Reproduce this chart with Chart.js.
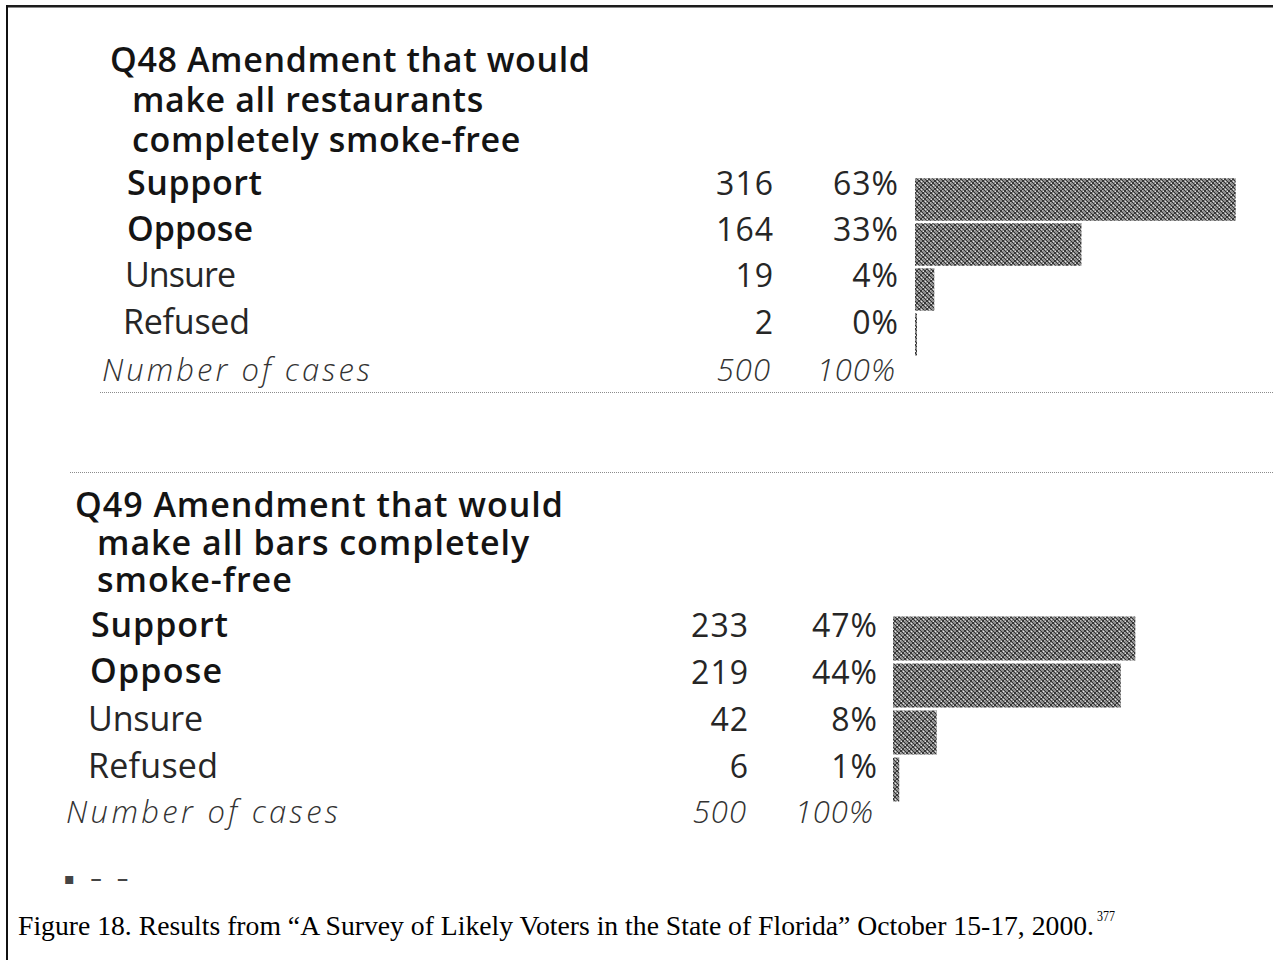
<!DOCTYPE html>
<html>
<head>
<meta charset="utf-8">
<script src="https://cdn.jsdelivr.net/npm/chart.js@4.4.1/dist/chart.umd.min.js"></script>
<style>
html,body{margin:0;padding:0;background:#fff;}
#page{position:relative;width:1273px;height:960px;overflow:hidden;background:#fff;}
.frameTop{position:absolute;left:6px;top:5px;width:1267px;height:2px;background:#1c1c1c;}
.frameTop2{position:absolute;left:6px;top:7px;width:1267px;height:1px;background:#8a8a8a;}
.frameLeft{position:absolute;left:6px;top:5px;width:2px;height:955px;background:#111;}
.dots{position:absolute;height:0;border-top:1px dotted #8c8c8c;}
.t{position:absolute;white-space:pre;line-height:1;font-family:"Open Sans","Noto Sans",sans-serif;font-size:34px;color:#1e1e1e;}
.t > span.tx{display:inline-block;line-height:1;}
.b{font-weight:600;color:#141414;}
.r{font-weight:400;color:#262626;}
.n{font-weight:400;color:#262626;font-size:32px;}
.i{font-style:italic;font-weight:300;color:#333;font-size:31px;}
.cap{font-family:"Times New Roman","Liberation Serif",serif;font-size:28px;color:#000;font-weight:400;transform-origin:0 0;}
.sup{font-family:"Times New Roman","Liberation Serif",serif;font-size:15px;color:#000;transform-origin:0 0;}
.frag{font-family:"DejaVu Sans",sans-serif;font-size:16px;color:#444;font-weight:bold;}
canvas.bars{position:absolute;}
</style>
</head>
<body>
<div id="page">
  <div class="frameTop"></div><div class="frameTop2"></div><div class="frameLeft"></div>
  <div class="dots" style="left:100px;top:392px;width:1173px;"></div>
  <div class="dots" style="left:70px;top:472px;width:1203px;"></div>
  <canvas id="c48" class="bars" width="340" height="180" style="left:915px;top:177px;"></canvas>
  <canvas id="c49" class="bars" width="260" height="188" style="left:893px;top:615px;"></canvas>
</div>
<script>
// ---------------- data ----------------
const rowLabels = ["Support", "Oppose", "Unsure", "Refused"];
const caseLabel = "Number of cases";

const q48Title = ["Q48 Amendment that would", "make all restaurants", "completely smoke-free"];
const q48Counts = [316, 164, 19, 2];
const q48Percents = ["63%", "33%", "4%", "0%"];
const q48Totals = ["500", "100%"];

const q49Title = ["Q49 Amendment that would", "make all bars completely", "smoke-free"];
const q49Counts = [233, 219, 42, 6];
const q49Percents = ["47%", "44%", "8%", "1%"];
const q49Totals = ["500", "100%"];

const captionText = "Figure 18. Results from \u201cA Survey of Likely Voters in the State of Florida\u201d October 15-17, 2000.";
const captionNote = "377";

// ---------------- layout ----------------
const page = document.getElementById("page");

function makeEl(text, cls) {
  const d = document.createElement("div");
  d.className = "t " + cls;
  d.style.left = "0px"; d.style.top = "0px";
  const s = document.createElement("span");
  s.className = "tx";
  s.textContent = text;
  const m = document.createElement("span");
  m.style.cssText = "display:inline-block;width:0;height:0;";
  d.appendChild(s); d.appendChild(m);
  page.appendChild(d);
  return [d, s, m];
}

function fitSpacing(text, cls, w) {
  const [d, s] = makeEl(text, cls);
  const w0 = s.getBoundingClientRect().width;
  d.remove();
  const n = [...text].length;
  return n > 1 ? (w - w0) / (n - 1) : 0;
}

function place(text, cls, x, baseline, opt) {
  opt = opt || {};
  const [d, s, m] = makeEl(text, cls);
  let ls = opt.ls || 0;
  if (opt.w) ls = fitSpacing(text, cls, opt.w);
  s.style.letterSpacing = ls + "px";
  const pr = page.getBoundingClientRect();
  const vis = s.getBoundingClientRect().width - ls;
  const mt = m.getBoundingClientRect().top - pr.top;
  if (opt.sx) d.style.transform = "scaleX(" + (opt.sx / vis) + ")";
  const left = opt.align === "right" ? x - vis : x;
  d.style.left = left + "px";
  d.style.top = (baseline - mt) + "px";
  return d;
}

// multi-line heading as one text block
function placeBlock(lines, cls, xFirst, xRest, base1, lh, w1) {
  const ls = fitSpacing(lines[0], cls, w1);
  const [d, s, m] = makeEl(lines.join("\n"), cls);
  d.style.lineHeight = lh + "px";
  s.style.lineHeight = lh + "px";
  s.style.textIndent = (xFirst - xRest) + "px";
  s.style.letterSpacing = ls + "px";
  const pr = page.getBoundingClientRect();
  const mt = m.getBoundingClientRect().top - pr.top;
  d.style.left = xRest + "px";
  d.style.top = (base1 + (lines.length - 1) * lh - mt) + "px";
  return d;
}

function makePattern() {
  const c = document.createElement("canvas");
  c.width = 8; c.height = 8;
  const g = c.getContext("2d");
  g.fillStyle = "#8e8e8e"; g.fillRect(0, 0, 8, 8);
  g.fillStyle = "#363636";
  for (let i = 0; i < 8; i++) { g.fillRect(i, i, 1, 1); g.fillRect((i + 4) % 8, i, 1, 1); g.fillRect(7 - i, i, 1, 1); }
  g.fillStyle = "#e6e6e6";
  g.fillRect(2, 0, 1, 1); g.fillRect(6, 4, 1, 1); g.fillRect(0, 6, 1, 1); g.fillRect(4, 2, 1, 1);
  g.fillStyle = "#b8b8b8";
  g.fillRect(3, 5, 1, 1); g.fillRect(7, 1, 1, 1);
  return g.createPattern(c, "repeat");
}

function barChart(id, counts, max, barPct) {
  return new Chart(document.getElementById(id), {
    type: "bar",
    data: {
      labels: rowLabels,
      datasets: [{
        data: counts,
        backgroundColor: makePattern(),
        borderWidth: 0,
        barPercentage: barPct,
        categoryPercentage: 1
      }]
    },
    options: {
      indexAxis: "y",
      responsive: false,
      animation: false,
      events: [],
      layout: { padding: 0 },
      plugins: { legend: { display: false }, tooltip: { enabled: false } },
      scales: {
        x: { display: false, min: 0, max: max },
        y: { display: false }
      }
    }
  });
}

function build() {
  // Q48 block
  placeBlock(q48Title, "b", 110, 132, 72, 40, 480);
  const l48 = [[127, 195, 135, "b"], [127, 241, 126, "b"], [125, 287, 111, "r"], [123, 334, 127, "r"]];
  rowLabels.forEach((s, i) => place(s, l48[i][3], l48[i][0], l48[i][1], { w: l48[i][2] }));
  place(caseLabel, "i", 102, 381, { w: 268 });
  const b48 = [195, 241, 287, 334];
  q48Counts.forEach((v, i) => place(String(v), "n", 773, b48[i], { align: "right", ls: 1 }));
  q48Percents.forEach((v, i) => place(v, "n", 898, b48[i], { align: "right", ls: 1 }));
  place(q48Totals[0], "i", 770, 381, { align: "right", ls: 1 });
  place(q48Totals[1], "i", 895, 381, { align: "right", ls: 1 });

  // Q49 block
  placeBlock(q49Title, "b", 75, 97, 517, 37.5, 488);
  const l49 = [[91, 637, 137, "b"], [90, 683, 132, "b"], [88, 731, 115, "r"], [88, 778, 130, "r"]];
  rowLabels.forEach((s, i) => place(s, l49[i][3], l49[i][0], l49[i][1], { w: l49[i][2] }));
  place(caseLabel, "i", 66, 823, { w: 272 });
  const b49 = [637, 684, 731, 778];
  q49Counts.forEach((v, i) => place(String(v), "n", 748, b49[i], { align: "right", ls: 1 }));
  q49Percents.forEach((v, i) => place(v, "n", 877, b49[i], { align: "right", ls: 1 }));
  place(q49Totals[0], "i", 746, 823, { align: "right", ls: 1 });
  place(q49Totals[1], "i", 873, 823, { align: "right", ls: 1 });

  // fragment & caption
  place("\u25AA \u2012 \u2012", "frag", 64, 884, { ls: 5 });
  place(captionText, "cap", 18, 935, { sx: 1076 });
  place(captionNote, "sup", 1097, 921, { sx: 18 });

  barChart("c48", q48Counts, 335, 0.94);
  barChart("c49", q49Counts, 250, 0.935);
}

if (document.fonts && document.fonts.ready) document.fonts.ready.then(build); else build();
</script>
</body>
</html>
